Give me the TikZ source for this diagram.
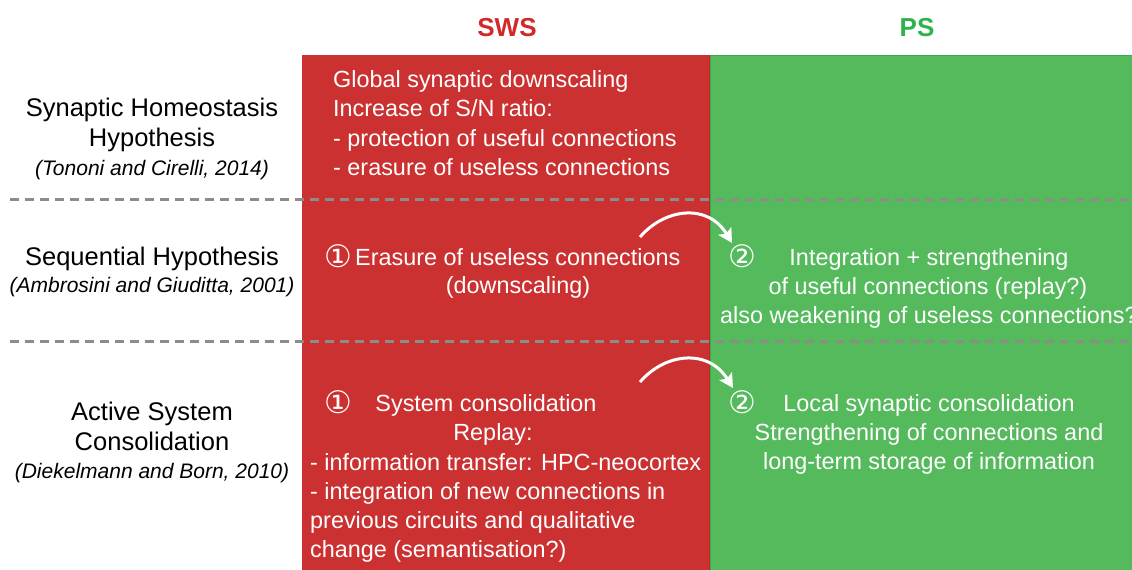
\documentclass[tikz,border=0pt]{standalone}
\usepackage{fontspec}
\setmainfont{Liberation Sans}
\newfontfamily\circfont{DejaVu Sans}
\usetikzlibrary{arrows.meta}
\definecolor{swsred}{RGB}{203,49,49}
\definecolor{swsborder}{RGB}{190,40,40}
\definecolor{psgreen}{RGB}{84,186,92}
\definecolor{psborder}{RGB}{58,170,72}
\definecolor{hdred}{RGB}{210,40,42}
\definecolor{hdgreen}{RGB}{46,178,74}
\definecolor{dashgray}{RGB}{140,140,140}
\tikzset{
  body/.style={inner sep=0pt, font=\fontsize{23.4}{29.5}\selectfont, text=white},
  lab/.style={inner sep=0pt, font=\fontsize{25.5}{30}\selectfont, text=black, anchor=base},
  cite/.style={inner sep=0pt, font=\fontsize{21}{26}\selectfont\itshape, text=black, anchor=base},
  hdr/.style={inner sep=0pt, font=\fontsize{26}{30}\selectfont\bfseries, anchor=base},
  circ/.style={inner sep=0pt, font=\circfont\fontsize{31}{34}\selectfont, text=white, anchor=base},
  sep/.style={draw=dashgray, line width=3pt, dash pattern=on 9pt off 6pt},
  flow/.style={draw=white, line width=3pt, -{Stealth[length=14pt,width=15pt,inset=3pt]}}
}
\begin{document}
\begin{tikzpicture}[x=1pt,y=-1pt]
\useasboundingbox (0,0) rectangle (1132,570);
\clip (0,0) rectangle (1132,570);
% columns
\fill[swsred] (302,55) rectangle (709,575);
\draw[swsborder, line width=1pt] (709,55) -- (709,575);
\fill[psgreen] (709.5,55) rectangle (1135,575);
\draw[psborder, line width=1pt] (710,55.5) -- (1135,55.5);
\draw[psborder, line width=1pt] (710.5,55) -- (710.5,575);
% headers
\node[hdr, text=hdred] (hsws) at (507,36.5) {SWS};
\node[hdr, text=hdgreen] (hps) at (917,36.5) {PS};
% separators
\draw[sep] (10,199) -- (1140,199);
\draw[sep] (10,341) -- (1140,341);
% left labels
\node[lab] (l1a) at (152,116) {Synaptic Homeostasis};
\node[lab] (l1b) at (152,146) {Hypothesis};
\node[cite] (l1c) at (152,175) {(Tononi and Cirelli, 2014)};
\node[lab] (l2a) at (152,265) {Sequential Hypothesis};
\node[cite] (l2c) at (152,292) {(Ambrosini and Giuditta, 2001)};
\node[lab] (l3a) at (152,420) {Active System};
\node[lab] (l3b) at (152,450) {Consolidation};
\node[cite] (l3c) at (152,478) {(Diekelmann and Born, 2010)};
% SWS row 1
\node[body, anchor=base west] (r1a) at (333,87) {Global synaptic downscaling};
\node[body, anchor=base west] (r1b) at (333,116) {Increase of S/N ratio:};
\node[body, anchor=base west] (r1c) at (333,146) {- protection of useful connections};
\node[body, anchor=base west] (r1d) at (333,175) {- erasure of useless connections};
% SWS row 2
\node[circ] (c21) at (338,267) {①};
\node[body, anchor=base west] (r2a) at (355,265) {Erasure of useless connections};
\node[body, anchor=base] (r2b) at (518,293) {(downscaling)};
% SWS row 3
\node[circ] (c31) at (338,413) {①};
\node[body, anchor=base] (r3a) at (486,411) {System consolidation};
\node[body, anchor=base] (r3b) at (493,440) {Replay:};
\node[body, anchor=base west] (r3c) at (310,470) {- information transfer: HPC-neocortex};
\node[body, anchor=base west] (r3d) at (310,499) {- integration of new connections in};
\node[body, anchor=base west] (r3e) at (310,528) {previous circuits and qualitative};
\node[body, anchor=base west] (r3f) at (310,557) {change (semantisation?)};
% PS row 2
\node[circ] (c22) at (742,267) {②};
\node[body, anchor=base] (g2a) at (929,265) {Integration + strengthening};
\node[body, anchor=base] (g2b) at (928,294) {of useful connections (replay?)};
\node[body, anchor=base west] (g2c) at (720,323) {also weakening of useless connections?};
% PS row 3
\node[circ] (c32) at (742,413) {②};
\node[body, anchor=base] (g3a) at (929,411) {Local synaptic consolidation};
\node[body, anchor=base] (g3b) at (929,440) {Strengthening of connections and};
\node[body, anchor=base] (g3c) at (929,469) {long-term storage of information};
% arrows
\coordinate (a2s) at (640,237);
\coordinate (a2e) at (732,243);
\coordinate (a3s) at (640,382);
\coordinate (a3e) at (733,388);
\draw[flow] (a2s) .. controls (665,208) and (708,203) .. (a2e);
\draw[flow] (a3s) .. controls (665,353) and (708,348) .. (a3e);
\end{tikzpicture}
\end{document}
